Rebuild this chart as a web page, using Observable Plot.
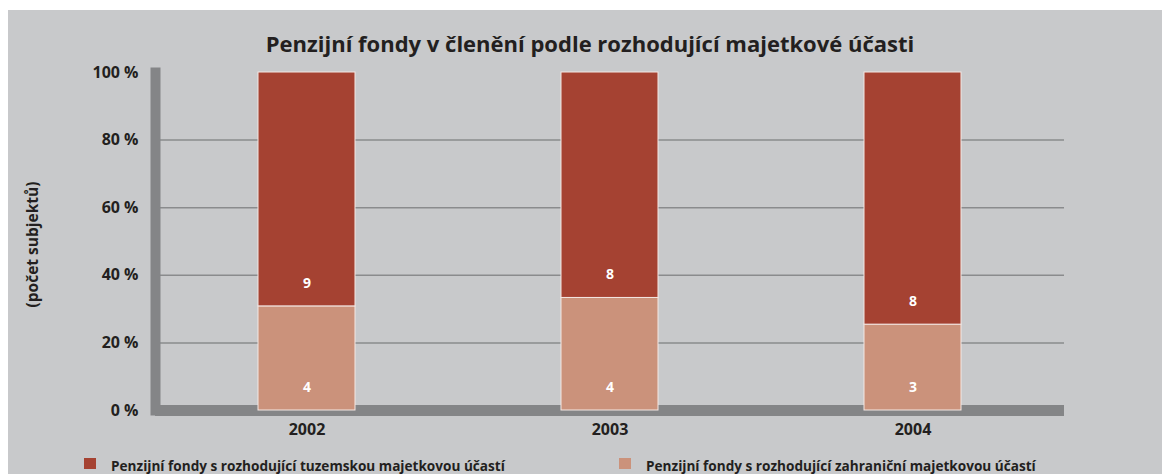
<!DOCTYPE html>
<html>
<head>
<meta charset="utf-8">
<script src="https://cdn.jsdelivr.net/npm/d3@7"></script>
<script src="https://cdn.jsdelivr.net/npm/@observablehq/plot@0.6"></script>
<style>
  html, body { margin: 0; padding: 0; background: #ffffff; }
  #wrap { position: absolute; left: 8px; top: 10px; width: 1154px; height: 464px; background: #c8c9cb; overflow: hidden; font-family: "Open Sans", Lato, sans-serif; color: #231f20; }
  #title { position: absolute; left: 5px; top: 22px; width: 1154px; text-align: center; font-size: 22px; line-height: 22px; font-weight: 700; white-space: nowrap; }
  #chart { position: absolute; left: 0; top: 0; }
  .leg { position: absolute; top: 449px; font-size: 13.6px; line-height: 14px; font-weight: 700; white-space: nowrap; }
  .sw { position: absolute; top: -1px; width: 12px; height: 11px; }
  .lt { position: absolute; top: 0; left: 27px; }
</style>
</head>
<body>
<div id="wrap">
  <div id="chart"></div>
  <div id="title"></div>
  <div id="legend"></div>
</div>
<script>
const chartTitle = "Penzijní fondy v členění podle rozhodující majetkové účasti";
const yAxisTitle = "(počet subjektů)";
const years = ["2002", "2003", "2004"];
const seriesKeys = ["domestic", "foreign"];
const seriesNames = [
  "Penzijní fondy s rozhodující tuzemskou majetkovou účastí",
  "Penzijní fondy s rozhodující zahraniční majetkovou účastí"
];
const seriesColors = ["#a54232", "#cb927b"];
const domesticCount = [9, 8, 8];
const foreignCount = [4, 4, 3];
const foreignShare = [30.8, 33.3, 25.4];
const domesticShare = [69.2, 66.7, 74.6];
const yTicks = [0, 20, 40, 60, 80, 100];

const rows = years.flatMap((yr, i) => [
  {year: yr, series: "foreign", y1: 0, y2: foreignShare[i], n: foreignCount[i]},
  {year: yr, series: "domestic", y1: foreignShare[i], y2: foreignShare[i] + domesticShare[i], n: domesticCount[i]}
]);

document.getElementById("title").textContent = chartTitle;

const font = "'Open Sans', Lato, sans-serif";
const plot = Plot.plot({
  width: 1154,
  height: 464,
  marginTop: 62,
  marginBottom: 64,
  marginLeft: 147,
  marginRight: 98,
  style: {background: "transparent", fontFamily: font, color: "#231f20", overflow: "visible"},
  x: {domain: years, paddingInner: 0.68, paddingOuter: 0.34, axis: null},
  y: {domain: [0, 100], axis: null},
  color: {domain: seriesKeys, range: seriesColors},
  marks: [
    Plot.ruleY(yTicks.filter(d => d > 0 && d < 100), {stroke: "#8a8b8d", strokeWidth: 1.5}),
    Plot.ruleY([0], {stroke: "#848587", strokeWidth: 11}),
    Plot.frame({anchor: "left", stroke: "#848587", strokeWidth: 10}),
    Plot.barY(rows, {x: "year", y1: "y1", y2: "y2", fill: "series", stroke: "#f4e8e4", strokeWidth: 1}),
    Plot.text(rows, {x: "year", y: "y1", text: "n", dy: -23, fill: "white", fontWeight: "bold", fontSize: 14}),
    Plot.axisY(yTicks, {tickSize: 0, tickPadding: 17, tickFormat: d => d + " %", fontSize: 16, fontWeight: "bold", color: "#231f20", label: null}),
    Plot.axisX({tickSize: 0, tickPadding: 13, fontSize: 16, fontWeight: "bold", color: "#231f20", label: null}),
    Plot.text([yAxisTitle], {frameAnchor: "left", textAnchor: "middle", rotate: -90, dx: -122, dy: 3, fontSize: 15.5, fontWeight: "bold", fill: "#231f20"})
  ]
});
document.getElementById("chart").appendChild(plot);

const legend = document.getElementById("legend");
const legendLeft = [76, 611];
seriesNames.forEach((name, i) => {
  const item = document.createElement("div");
  item.className = "leg";
  item.style.left = legendLeft[i] + "px";
  const sw = document.createElement("span");
  sw.className = "sw";
  sw.style.background = seriesColors[i];
  const lt = document.createElement("span");
  lt.className = "lt";
  lt.textContent = name;
  item.appendChild(sw);
  item.appendChild(lt);
  legend.appendChild(item);
});
</script>
</body>
</html>
